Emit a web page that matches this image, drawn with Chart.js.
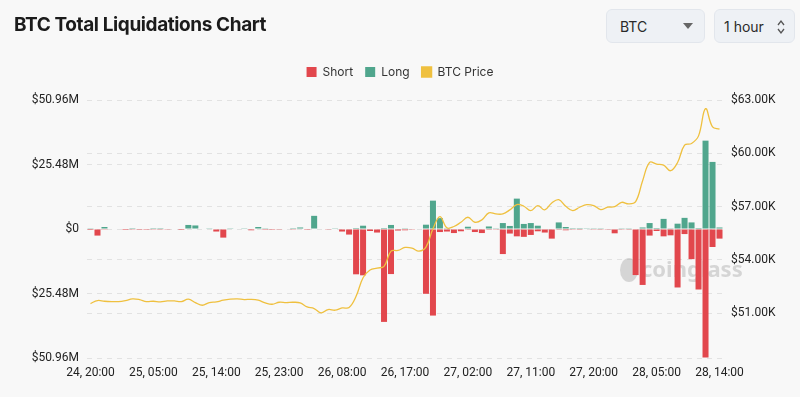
<!DOCTYPE html>
<html>
<head>
<meta charset="utf-8">
<script src="https://cdn.jsdelivr.net/npm/chart.js@4/dist/chart.umd.min.js"></script>
<style>
  html, body { margin: 0; padding: 0; background: #f8f8f8; }
  body { width: 800px; height: 397px; position: relative; overflow: hidden; font-family: Inter, "Noto Sans", sans-serif; }
  #wrap { position: absolute; left: 0; top: 0; width: 800px; height: 397px; }
  .title { position: absolute; left: 14px; top: 13px; font-size: 19px; font-weight: 700; color: #1b1b1b; letter-spacing: -0.4px; }
  .box { position: absolute; top: 9px; height: 34px; background: #eef1f5; border: 1px solid #e2e6ec; border-radius: 6px; box-sizing: border-box; font-size: 14px; color: #2a2a2a; line-height: 33px; }
  .box svg { position: absolute; }
</style>
</head>
<body>
<div id="wrap"><canvas id="chart"></canvas></div>
<div class="title">BTC Total Liquidations Chart</div>
<div class="box" style="left:606px;width:99px;padding-left:13px;">BTC
  <svg style="left:76px;top:13px" width="10" height="6"><path d="M0 0 L10 0 L5 6 Z" fill="#666"/></svg>
</div>
<div class="box" style="left:714px;width:81px;padding-left:9px;">1 hour
  <svg style="left:61px;top:9px" width="10" height="16"><path d="M2 6 L5 2 L8 6 M2 10 L5 14 L8 10" stroke="#555" stroke-width="1.3" fill="none"/></svg>
</div>
<script>
// hourly buckets from 24, 20:00 to 28, 14:00
var startDay = 24, startHour = 20, hours = 91;
var labels = [];
for (var i = 0; i < hours; i++) {
  var h = startHour + i;
  var d = startDay + Math.floor(h / 24);
  var hh = h % 24;
  labels.push(d + ", " + (hh < 10 ? "0" + hh : hh) + ":00");
}

// liquidations in millions USD
var shortLiq = [
  0.4, 2.6, 0.1, 0.2, 0.2, 0.4, 0.1, 0.05, 0.05, 0.1,
  0.1, 0.1, 0.2, 0.4, 0, 0, 0.2, 0.2, 1.0, 3.4,
  0.2, 0.2, 0.2, 0.5, 0, 0.05, 0.05, 0.1, 0.2, 0.1,
  0, 0.05, 0, 0.2, 0.1, 0.2, 1.0, 2.2, 17.9, 18.3,
  0.8, 1.4, 36.7, 17.8, 0.6, 0.5, 0.1, 0.2, 25.6, 34.2,
  1.2, 1.0, 1.6, 0.9, 0.3, 1.2, 1.6, 0.3, 0.1, 9.9,
  1.8, 2.9, 3.1, 2.35, 0.9, 1.4, 3.8, 0.3, 0.5, 0.3,
  0.3, 0.2, 0.1, 0.1, 0.3, 1.7, 0.1, 0.1, 18.2, 22.1,
  2.6, 0.8, 2.9, 2.5, 23.1, 2.0, 11.9, 23.9, 50.8, 7.1,
  3.8
];
var longLiq = [
  0.1, 0, 0.8, 0, 0, 0, 0.05, 0.2, 0.2, 0.05,
  0.05, 0, 0, 0, 1.6, 1.4, 0, 0.1, 0, 0,
  0.3, 0, 0.1, 0.2, 0.8, 0.3, 0.2, 0, 0, 0.05,
  0.6, 0.2, 5.2, 0, 0.2, 0.1, 0, 0, 0.4, 1.3,
  0, 0, 0.4, 1.6, 0, 0.3, 0.2, 0, 1.7, 11.2,
  4.3, 0.1, 0, 0, 0.9, 0, 0, 1.0, 0.3, 2.35,
  1.2, 12.0, 2.0, 2.35, 1.3, 0, 0, 2.6, 0.8, 0.05,
  0.05, 0.1, 0.3, 0.3, 0, 0, 0.1, 0.1, 0, 0.6,
  2.35, 0.4, 4.0, 0.1, 2.1, 4.4, 2.6, 0.4, 34.9, 26.5,
  0.6
];
var btcPrice = [
  51545, 51713, 51675, 51657, 51657, 51713, 51806, 51769, 51657, 51675,
  51638, 51694, 51694, 51657, 51788, 51601, 51450, 51601, 51638, 51731,
  51788, 51806, 51769, 51780, 51731, 51582, 51506, 51618, 51600, 51618,
  51582, 51357, 51264, 51021, 51208, 51170, 51300, 51320, 51950, 53000,
  53430, 53540, 53637, 54497, 54534, 54700, 54665, 54497, 54721, 55750,
  56440, 55805, 55880, 56120, 56400, 56120, 56253, 56647, 56590, 56590,
  56816, 57113, 57020, 56778, 57057, 56816, 57208, 57393, 57020, 56778,
  56965, 57113, 57057, 56833, 56965, 57000, 57242, 57150, 57281, 58458,
  59485, 59395, 59339, 59020, 59485, 60460, 60555, 60981, 62512, 61486,
  61357
];

var liqTicks = [-50.96e6, -25.48e6, 0, 25.48e6, 50.96e6];
var priceTicks = [51000, 54000, 57000, 60000, 63000];

var red = "#e2474d";
var green = "#50a68d";
var gold = "#efc03f";

var watermark = {
  id: "watermark",
  beforeDatasetsDraw: function(chart) {
    var c = chart.ctx, a = chart.chartArea;
    var x = a.right - 82, y = a.top + 171;
    c.save();
    c.fillStyle = "rgba(150,150,150,0.35)";
    c.beginPath();
    c.ellipse(x - 12, y - 1, 9, 12, 0, 0, Math.PI * 2);
    c.fill();
    c.font = "bold 22px 'Noto Sans'";
    c.textBaseline = "middle";
    c.fillText("coinglass", x, y);
    c.restore();
  }
};

// extra room under the legend
var legendGap = {
  id: "legendGap",
  beforeInit: function(chart) {
    var fit = chart.legend.fit;
    chart.legend.fit = function() {
      fit.bind(chart.legend)();
      this.height += 12;
    };
  }
};

var gridStyle = { color: "#e2e2e2", drawTicks: false };
var tickFont = { family: "Roboto", size: 12 };

new Chart(document.getElementById("chart"), {
  type: "bar",
  data: {
    labels: labels,
    datasets: [
      {
        label: "Short",
        data: shortLiq.map(function(v) { return -v * 1e6; }),
        backgroundColor: red,
        yAxisID: "y",
        order: 1,
        barPercentage: 0.86,
        categoryPercentage: 1
      },
      {
        label: "Long",
        data: longLiq.map(function(v) { return v * 1e6; }),
        backgroundColor: green,
        yAxisID: "y",
        order: 1,
        barPercentage: 0.86,
        categoryPercentage: 1
      },
      {
        type: "line",
        label: "BTC Price",
        data: btcPrice,
        borderColor: gold,
        backgroundColor: gold,
        borderWidth: 1.3,
        pointRadius: 0,
        tension: 0.4,
        yAxisID: "y1",
        order: 0
      }
    ]
  },
  options: {
    responsive: true,
    maintainAspectRatio: false,
    animation: false,
    layout: { padding: { top: 54, bottom: 0, left: 0, right: 0 } },
    plugins: {
      legend: {
        labels: {
          boxWidth: 10,
          boxHeight: 10,
          padding: 12,
          color: "#333",
          font: { family: "Inter", size: 12 },
          sort: function(a, b) { return a.datasetIndex - b.datasetIndex; }
        }
      },
      tooltip: { enabled: false }
    },
    scales: {
      x: {
        stacked: true,
        grid: { display: false, drawTicks: false },
        border: { display: false },
        ticks: {
          autoSkip: false,
          maxRotation: 0,
          padding: 8,
          color: "#222",
          font: tickFont,
          callback: function(v, i) { return i % 9 === 0 ? labels[i] : ""; }
        },
        afterFit: function(s) { s.height = 39; }
      },
      y: {
        stacked: true,
        position: "left",
        min: -50.96e6,
        max: 50.96e6,
        grid: gridStyle,
        border: { display: false, dash: [5, 5] },
        ticks: {
          padding: 8,
          color: "#222",
          font: tickFont,
          callback: function(v) {
            if (v === 0) return "$0";
            return "$" + (Math.abs(v) / 1e6).toFixed(2) + "M";
          }
        },
        afterBuildTicks: function(s) { s.ticks = liqTicks.map(function(v) { return { value: v }; }); },
        afterFit: function(s) { s.width = 87; }
      },
      y1: {
        position: "right",
        min: 48480,
        max: 63000,
        grid: gridStyle,
        border: { display: false, dash: [5, 5] },
        ticks: {
          padding: 8,
          color: "#222",
          font: tickFont,
          callback: function(v) { return "$" + (v / 1000).toFixed(2) + "K"; }
        },
        afterBuildTicks: function(s) { s.ticks = priceTicks.map(function(v) { return { value: v }; }); },
        afterFit: function(s) { s.width = 77; }
      }
    }
  },
  plugins: [watermark, legendGap]
});
</script>
</body>
</html>
